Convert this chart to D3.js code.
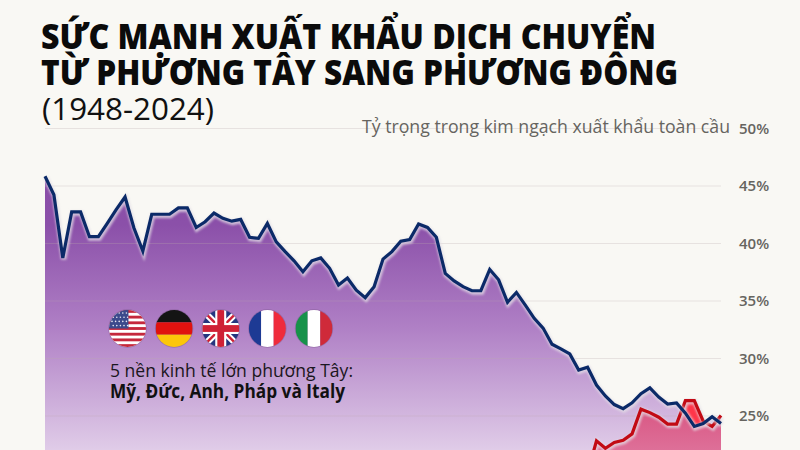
<!DOCTYPE html>
<html><head><meta charset="utf-8">
<script src="https://cdn.jsdelivr.net/npm/d3@7"></script>
<style>
html,body{margin:0;padding:0;background:#f9f8f4;overflow:hidden}
svg{display:block}
text{font-family:"Open Sans","Noto Sans",sans-serif}
</style></head><body>
<svg id="c" width="800" height="450"></svg>
<script>
const years = d3.range(1948, 2025);
const westShare = [45.8,44.2,38.7,42.7,42.7,40.55,40.55,41.7,42.9,44.0,41.3,39.3,42.5,42.5,42.5,43.05,43.05,41.35,41.85,42.6,42.15,41.9,42.05,40.5,40.4,41.7,40.1,39.25,38.45,37.5,38.45,38.7,37.8,36.35,36.95,35.9,35.25,36.2,38.6,39.25,40.15,40.3,41.65,41.35,40.5,37.35,36.7,36.2,35.85,35.85,37.7,36.8,34.85,35.7,34.6,33.45,32.6,31.2,30.8,30.35,28.95,29.2,27.65,26.7,25.95,25.6,26.1,26.9,27.4,26.6,26.0,26.1,25.2,24.05,24.3,24.9,24.3];
const eastYears = [2009,2010,2011,2012,2013,2014,2015,2016,2017,2018,2019,2020,2021,2022,2023,2024];
const eastShare = [20.0,22.8,22.15,22.65,22.85,23.4,25.55,25.25,24.85,24.25,24.25,26.3,26.3,24.5,24.05,25.0];
const ticks = [50,45,40,35,30,25];
const titleLines = ["SỨC MẠNH XUẤT KHẨU DỊCH CHUYỂN","TỪ PHƯƠNG TÂY SANG PHƯƠNG ĐÔNG"];
const subtitle = "(1948-2024)";
const axisTitle = "Tỷ trọng trong kim ngạch xuất khẩu toàn cầu";
const legendLine1 = "5 nền kinh tế lớn phương Tây:";
const legendLine2 = "Mỹ, Đức, Anh, Pháp và Italy";
const flags = ["us","de","uk","fr","it"];

const svg = d3.select("#c");
const x = d3.scaleLinear().domain([1948,2024]).range([45,721]);
const y = d3.scaleLinear().domain([25,50]).range([415.5,128]);
const defs = svg.append("defs");

function grad(id, stops, y1, y2){
  const g = defs.append("linearGradient").attr("id",id).attr("gradientUnits","userSpaceOnUse")
    .attr("x1",0).attr("x2",0).attr("y1",y1).attr("y2",y2);
  stops.forEach(s=>g.append("stop").attr("offset",s[0]).attr("stop-color",s[1]));
}
grad("pg",[[0,"#8a4da8"],[0.18,"#8b50a9"],[0.55,"#af7fc5"],[1,"#e0cce8"]],175,450);
grad("rg",[[0,"#d8527f"],[1,"#e07ba2"]],400,470);
const f = defs.append("filter").attr("id","halo").attr("x","-5%").attr("y","-5%").attr("width","110%").attr("height","110%");
f.append("feGaussianBlur").attr("stdDeviation",0.9);
const fb = defs.append("filter").attr("id","glow");
fb.append("feGaussianBlur").attr("stdDeviation",1.2);

// area fills
const bottom = 470;
const westArea = d3.area().x((d,i)=>x(years[i])).y0(bottom).y1(d=>y(d));
svg.append("path").attr("d",westArea(westShare)).attr("fill","url(#pg)");
const eastArea = d3.area().x((d,i)=>x(eastYears[i])).y0(bottom).y1(d=>y(d));
svg.append("path").attr("d",eastArea(eastShare)).attr("fill","url(#rg)");

// grid
const axis = d3.axisRight(y).tickValues(ticks).tickSize(-(721-45)).tickPadding(0).tickFormat(d=>d+"%");
const gAxis = svg.append("g").attr("transform","translate(721,0)").call(axis);
gAxis.select(".domain").remove();
gAxis.selectAll("line").attr("stroke","#b9a9ad").attr("stroke-opacity",0.28).attr("stroke-width",1);
gAxis.selectAll("text").attr("x",18).attr("dy","0.35em")
  .attr("fill","#66645f").attr("font-size",15).attr("font-family","'Noto Sans'").attr("font-weight",600);

// bright patch where the eastern line rises above the western one
const patch = d3.area().defined((d,i)=>d>=westShare[years.indexOf(eastYears[i])]-0.3 && eastYears[i]>=2020 && eastYears[i]<=2022)
  .x((d,i)=>x(eastYears[i])).y0((d,i)=>y(westShare[years.indexOf(eastYears[i])])).y1(d=>y(d));
svg.append("path").attr("d",patch(eastShare)).attr("fill","#ff3548").attr("filter","url(#glow)");

// lines
const westLine = d3.line().x((d,i)=>x(years[i])).y(d=>y(d)).curve(d3.curveLinear);
const eastLine = d3.line().x((d,i)=>x(eastYears[i])).y(d=>y(d)).curve(d3.curveLinear);
function drawLine(d, col){
  svg.append("path").attr("d",d).attr("fill","none").attr("stroke","#e3dfe6").attr("stroke-opacity",0.75)
    .attr("stroke-width",5.5).attr("filter","url(#halo)").attr("transform","translate(0.8,1.2)");
  svg.append("path").attr("d",d).attr("fill","none").attr("stroke",col).attr("stroke-width",3.2).attr("stroke-linejoin","miter");
}
drawLine(eastLine(eastShare),"#c20a14");
drawLine(westLine(westShare),"#0b2a68");

// header
const t = svg.append("g");
titleLines.forEach((s,i)=>t.append("text").attr("x",41).attr("y",[49,85][i]).text(s)
  .attr("font-size",35).attr("font-weight",800).attr("fill","#0b0b0b").attr("font-family","'Open Sans'")
  .attr("textLength",[615,637][i]).attr("lengthAdjust","spacingAndGlyphs"));
t.append("text").attr("x",42).attr("y",120).text(subtitle).attr("font-size",31).attr("fill","#111")
  .attr("textLength",172).attr("lengthAdjust","spacingAndGlyphs");
svg.append("text").attr("x",362).attr("y",133).text(axisTitle).attr("font-size",18.5).attr("fill","#66645f")
  .attr("textLength",368).attr("lengthAdjust","spacingAndGlyphs");
svg.append("text").attr("x",110).attr("y",377).text(legendLine1).attr("font-size",19).attr("fill","#1b1620")
  .attr("textLength",243).attr("lengthAdjust","spacingAndGlyphs");
svg.append("text").attr("x",110).attr("y",398).text(legendLine2).attr("font-size",19).attr("font-weight",700).attr("fill","#111")
  .attr("textLength",235).attr("lengthAdjust","spacingAndGlyphs");

// flags
const fx = d3.scalePoint().domain(flags).range([127.5,314]);
const R = 18.5;
flags.forEach(k=>{
  const cp = defs.append("clipPath").attr("id","c-"+k);
  cp.append("circle").attr("r",R);
  const g = svg.append("g").attr("transform",`translate(${fx(k)},328.5)`);
  g.append("circle").attr("r",R+0.7).attr("fill","#7d5a90").attr("opacity",0.5);
  const h = g.append("g").attr("clip-path",`url(#c-${k})`);
  const rect=(a,b,w,ht,c)=>h.append("rect").attr("x",a).attr("y",b).attr("width",w).attr("height",ht).attr("fill",c);
  if(k==="us"){
    rect(-R,-R,2*R,2*R,"#fff");
    d3.range(0,13,2).forEach(i=>rect(-R,-R+i*2*R/13,2*R,2*R/13,"#c5283d"));
    rect(-R,-R,R*1.05,R*1.0,"#3c4a8c");
    d3.range(4).forEach(r=>d3.range(5).forEach(c=>h.append("circle").attr("cx",-R+3+c*3.6+(r%2)*1.2).attr("cy",-R+3+r*4.2).attr("r",0.8).attr("fill","#e8e8f2")));
  } else if(k==="de"){
    rect(-R,-R,2*R,2*R/3,"#141414");rect(-R,-R/3,2*R,2*R/3,"#e0120f");rect(-R,R/3,2*R,2*R/3,"#fcc60a");
  } else if(k==="uk"){
    rect(-R,-R,2*R,2*R,"#24357f");
    const ln=(a,b,c,d,col,w)=>h.append("line").attr("x1",a).attr("y1",b).attr("x2",c).attr("y2",d).attr("stroke",col).attr("stroke-width",w);
    ln(-R,-R,R,R,"#fff",6.5);ln(-R,R,R,-R,"#fff",6.5);
    ln(-R,-R,R,R,"#cf2136",2.4);ln(-R,R,R,-R,"#cf2136",2.4);
    rect(-R,-5.5,2*R,11,"#fff");rect(-5.5,-R,11,2*R,"#fff");
    rect(-R,-3.4,2*R,6.8,"#cf2136");rect(-3.4,-R,6.8,2*R,"#cf2136");
  } else if(k==="fr"){
    rect(-R,-R,2*R*0.33,2*R,"#1d3a94");rect(-R+2*R*0.33,-R,2*R*0.34,2*R,"#fff");rect(-R+2*R*0.67,-R,2*R*0.33,2*R,"#ef2b3c");
  } else {
    rect(-R,-R,2*R*0.33,2*R,"#17924a");rect(-R+2*R*0.33,-R,2*R*0.34,2*R,"#fff");rect(-R+2*R*0.67,-R,2*R*0.33,2*R,"#cf2a3a");
  }
});
</script></body></html>
